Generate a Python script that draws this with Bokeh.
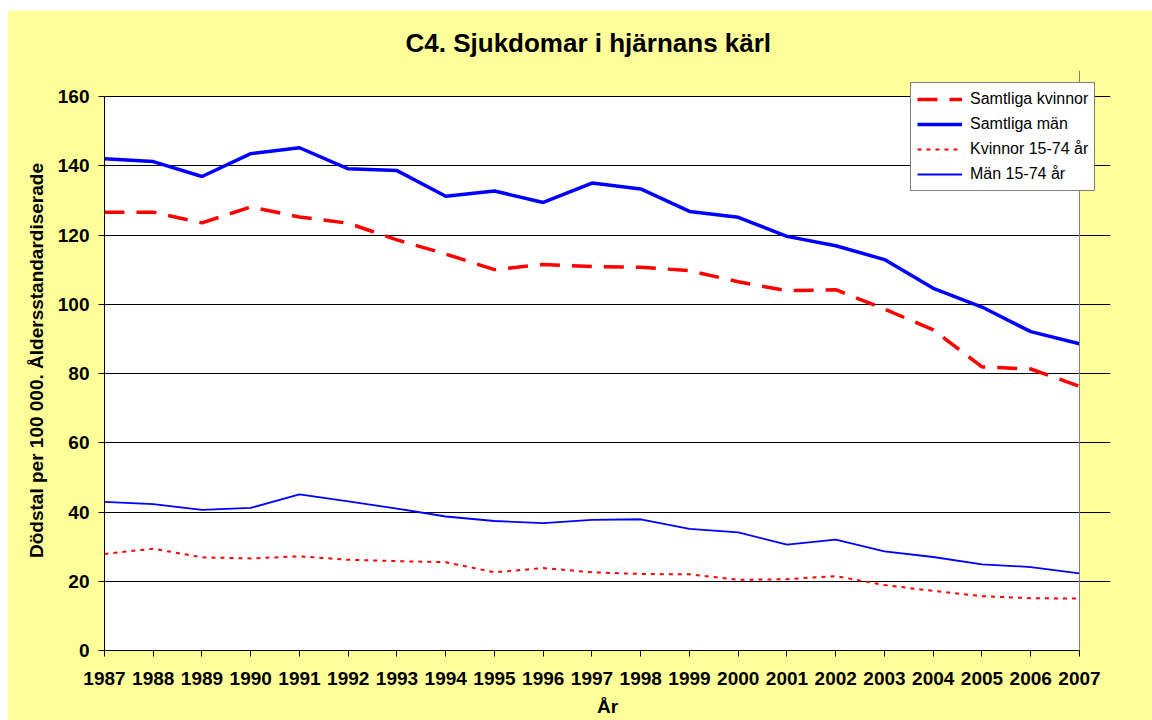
from bokeh.plotting import figure
from bokeh.models import Range1d, FixedTicker, Legend, LegendItem, BoxAnnotation, Span
from bokeh.embed import file_html
from bokeh.resources import INLINE

title_text = "C4. Sjukdomar i hjärnans kärl"
x_label = "År"
y_label = "Dödstal per 100 000. Åldersstandardiserade"

years = list(range(1987, 2008))
y_ticks = [0, 20, 40, 60, 80, 100, 120, 140, 160]

samtliga_kvinnor = [126.6, 126.6, 123.5, 128.1, 125.2, 123.4, 118.6, 114.5, 110.0, 111.5,
                    110.9, 110.7, 109.7, 106.5, 103.9, 104.2, 98.6, 92.6, 81.9, 81.3, 76.3]
samtliga_man = [142.0, 141.2, 136.9, 143.5, 145.2, 139.1, 138.6, 131.2, 132.7, 129.4,
                135.0, 133.3, 126.8, 125.1, 119.6, 116.9, 112.9, 104.6, 99.2, 92.1, 88.6]
kvinnor_15_74 = [27.9, 29.4, 26.9, 26.6, 27.2, 26.2, 25.8, 25.5, 22.6, 23.8,
                 22.6, 22.1, 22.0, 20.4, 20.6, 21.5, 18.9, 17.2, 15.7, 15.1, 15.0]
man_15_74 = [42.9, 42.3, 40.6, 41.2, 45.1, 43.1, 41.0, 38.7, 37.4, 36.8,
             37.7, 37.9, 35.1, 34.1, 30.6, 32.0, 28.6, 27.0, 24.9, 24.1, 22.3]

series_labels = ["Samtliga kvinnor", "Samtliga män", "Kvinnor 15-74 år", "Män 15-74 år"]

FONT = "Liberation Sans"
YELLOW = "#FFFF99"

# extra room beyond the plot area so the legend may overhang its top-right edge
x_pad_right = 0.636
y_pad_top = 7.51

p = figure(width=1145, height=710, output_backend="svg", toolbar_location=None,
           x_range=Range1d(years[0], years[-1] + x_pad_right),
           y_range=Range1d(y_ticks[0], y_ticks[-1] + y_pad_top),
           min_border_left=97, min_border_right=42, min_border_top=60, min_border_bottom=70)
p.margin = (10, 0, 0, 7)

p.border_fill_color = YELLOW
p.background_fill_color = YELLOW
p.outline_line_color = YELLOW
p.outline_line_width = 2

p.title.text = title_text
p.title.text_font = FONT
p.title.text_font_size = "26px"
p.title.text_font_style = "bold"
p.title.text_color = "black"
p.title.align = "left"
p.title.offset = 301
p.title.vertical_align = "bottom"
p.title.standoff = 25

for ax in (p.xaxis[0], p.yaxis[0]):
    ax.axis_line_color = "black"
    ax.axis_line_width = 1
    ax.major_tick_line_color = "black"
    ax.major_tick_in = 0
    ax.major_tick_out = 6
    ax.minor_tick_line_color = None
    ax.major_label_text_font = FONT
    ax.major_label_text_font_size = "19px"
    ax.major_label_text_font_style = "bold"
    ax.major_label_text_color = "black"
    ax.axis_label_text_font = FONT
    ax.axis_label_text_font_size = "19px"
    ax.axis_label_text_font_style = "bold"
    ax.axis_label_text_color = "black"

p.xaxis.ticker = FixedTicker(ticks=years)
p.xaxis.bounds = (years[0], years[-1])
p.yaxis.ticker = FixedTicker(ticks=y_ticks)
p.yaxis.bounds = (y_ticks[0], y_ticks[-1])
p.xaxis.axis_label = x_label
p.yaxis.axis_label = y_label
p.xaxis.major_label_standoff = 15
p.yaxis.major_label_standoff = 9
p.xaxis.axis_label_standoff = 8
p.yaxis.axis_label_standoff = 8

p.xgrid.visible = False
p.ygrid.ticker = FixedTicker(ticks=y_ticks)
p.ygrid.grid_line_color = "black"
p.ygrid.grid_line_width = 1

# white plot area only over the data extent; the rest stays chart-yellow
p.add_layout(BoxAnnotation(left=years[0], right=years[-1], bottom=y_ticks[0], top=y_ticks[-1],
                           fill_color="white", fill_alpha=1, line_color=None, level="image"))

r1 = p.line(years, samtliga_kvinnor, line_color="#FF0000", line_width=3.5, line_dash="20 12")
r2 = p.line(years, samtliga_man, line_color="#0000FF", line_width=3.5)
r3 = p.line(years, kvinnor_15_74, line_color="#FF0000", line_width=2, line_dash="4 5")
r4 = p.line(years, man_15_74, line_color="#0000FF", line_width=1.8)

p.add_layout(Span(location=years[-1], dimension="height", line_color="#808080", line_width=1))

items = [LegendItem(label=lab, renderers=[r]) for lab, r in zip(series_labels, [r1, r2, r3, r4])]
legend = Legend(items=items, location=(806, 459),
                label_text_font=FONT, label_text_font_size="16px", label_text_color="black",
                glyph_width=45, glyph_height=20, label_height=20, spacing=5, padding=6,
                margin=0, label_standoff=8,
                border_line_color="black", border_line_width=1,
                background_fill_color="white", background_fill_alpha=1)
p.add_layout(legend)

open("out.html", "w").write(file_html(p, INLINE))
